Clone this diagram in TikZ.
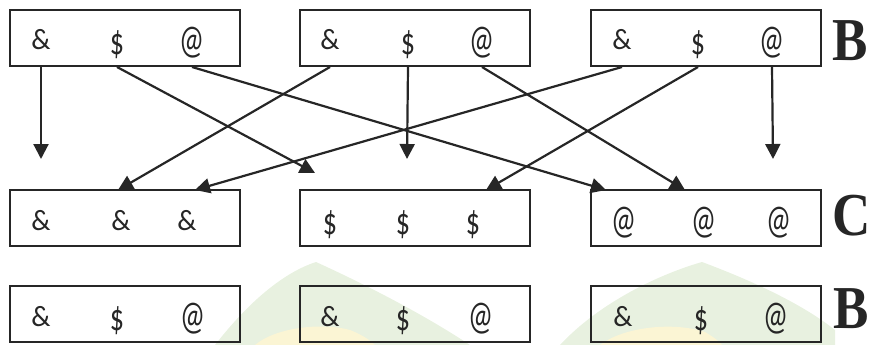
\documentclass[tikz,border=0pt]{standalone}
\usepackage{graphicx}
\usepackage{fontspec}
\newfontfamily\symfont{Carlito}
\newfontfamily\labfont{Liberation Serif}
\usetikzlibrary{arrows.meta}
\definecolor{wmgreen}{RGB}{232,241,224}
\definecolor{wmyellow}{RGB}{251,245,212}
\definecolor{inkgray}{RGB}{38,38,38}
% glyphs in the figure are set taller than wide
\newcommand{\tallsym}[1]{\scalebox{1}[1.15]{#1}}
\newcommand{\ampsym}{\scalebox{1}[1.05]{\&}}
\newcommand{\dolsym}{\raisebox{-4.5pt}{\scalebox{1}[1.35]{\$}}}
\newcommand{\atsym}{\raisebox{-3.5pt}{\scalebox{1}[1.47]{@}}}
\tikzset{
  rowbox/.style={draw=inkgray, line width=2pt, minimum width=230pt,
                 minimum height=56pt, inner sep=0pt},
  sym/.style={font=\symfont\fontsize{28}{28}\selectfont, text=inkgray,
              inner sep=0pt, anchor=base},
  rowlab/.style={font=\labfont\bfseries\fontsize{53}{53}\selectfont,
                 text=inkgray, inner sep=0pt, anchor=base},
  link/.style={draw=inkgray, line width=2.2pt,
               -{Triangle[length=15pt,width=15pt]}},
}
\begin{document}
\begin{tikzpicture}[x=1pt, y=-1pt]
  \useasboundingbox (0,0) rectangle (872,345);
  % faint watermark behind the lower rows
  \fill[wmgreen] (215,345) .. controls (250,300) and (285,272) .. (316,262)
    .. controls (360,282) and (420,312) .. (470,345) -- cycle;
  \fill[wmgreen] (560,345) .. controls (600,302) and (660,274) .. (702,262)
    .. controls (745,278) and (800,302) .. (835,330) -- (835,345) -- cycle;
  \fill[wmyellow] (255,345) .. controls (275,328) and (320,322) .. (350,330)
    .. controls (365,336) and (372,342) .. (375,345) -- cycle;
  \fill[wmyellow] (600,345) .. controls (625,326) and (675,322) .. (705,332)
    .. controls (715,338) and (720,342) .. (722,345) -- cycle;

  % boxes
  \node[rowbox] (b1) at (125,38) {};
  \node[rowbox] (b2) at (415,38) {};
  \node[rowbox] (b3) at (706,38) {};
  \node[rowbox] (c1) at (125,218) {};
  \node[rowbox] (c2) at (415,218) {};
  \node[rowbox] (c3) at (706,218) {};
  \node[rowbox] (d1) at (125,314) {};
  \node[rowbox] (d2) at (415,314) {};
  \node[rowbox] (d3) at (706,314) {};

  % symbols
  \foreach \n/\x/\s in {b1amp/41/\ampsym, b1dol/117/\dolsym, b1at/192/\atsym,
                        b2amp/330/\ampsym, b2dol/408/\dolsym, b2at/482/\atsym,
                        b3amp/622/\ampsym, b3dol/698/\dolsym, b3at/772/\atsym}
    \node[sym] (\n) at (\x,50) {\s};
  \foreach \n/\x/\s in {c1amp1/41/\ampsym, c1amp2/121/\ampsym, c1amp3/187/\ampsym,
                        c2dol1/330/\dolsym, c2dol2/403/\dolsym, c2dol3/473/\dolsym,
                        c3at1/624/\atsym, c3at2/704/\atsym, c3at3/779/\atsym}
    \node[sym] (\n) at (\x,230) {\s};
  \foreach \n/\x/\s in {d1amp/41/\ampsym, d1dol/117/\dolsym, d1at/193/\atsym,
                        d2amp/330/\ampsym, d2dol/403/\dolsym, d2at/481/\atsym,
                        d3amp/623/\ampsym, d3dol/701/\dolsym, d3at/776/\atsym}
    \node[sym] (\n) at (\x,326) {\s};

  % row letters
  \node[rowlab] (labB1) at (850,60) {\tallsym{B}};
  \node[rowlab] (labC) at (852,235) {\tallsym{C}};
  \node[rowlab] (labB2) at (851,328) {\tallsym{B}};

  % arrow ends
  \coordinate (f1) at (41,159);
  \coordinate (f2) at (315,173);
  \coordinate (f3) at (407,159);
  \coordinate (f4) at (773,159);
  \coordinate (e1) at (118,190);
  \coordinate (e2) at (195,190);
  \coordinate (e3) at (486,190);
  \coordinate (e4) at (606,190);
  \coordinate (e5) at (685,190);

  % arrows
  \draw[link] (b1amp |- b1.south) -- (f1);
  \draw[link] (b1dol |- b1.south) -- (f2);
  \draw[link] (b1at |- b1.south) -- (e4);
  \draw[link] (b2amp |- b2.south) -- (e1);
  \draw[link] (b2dol |- b2.south) -- (f3);
  \draw[link] (b2at |- b2.south) -- (e5);
  \draw[link] (b3amp |- b3.south) -- (e2);
  \draw[link] (b3dol |- b3.south) -- (e3);
  \draw[link] (b3at |- b3.south) -- (f4);
\end{tikzpicture}
\end{document}
